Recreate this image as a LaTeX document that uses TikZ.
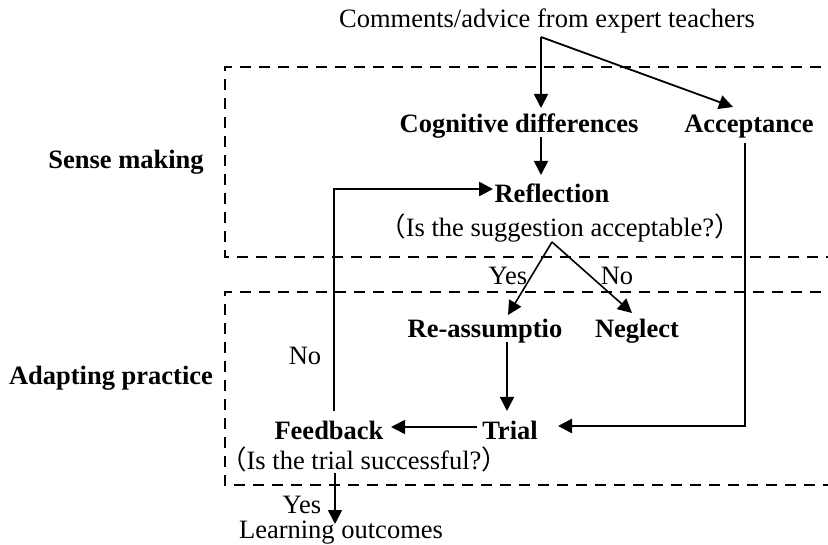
\documentclass[tikz,border=0pt]{standalone}
\usepackage{fontspec}
\setmainfont{Liberation Serif}
\newfontfamily\cjk{Noto Sans CJK SC}
\usetikzlibrary{arrows.meta}
\begin{document}
\begin{tikzpicture}[x=1pt,y=-1pt,
  lbl/.style={font=\fontsize{26.5}{30}\selectfont, inner sep=0pt, anchor=base},
  blbl/.style={lbl, font=\fontsize{26.5}{30}\selectfont\bfseries},
  arr/.style={-{Triangle[length=14pt,width=14pt]}, line width=1.6pt},
  heavy/.style={line width=2.6pt},
  dashbox/.style={dash pattern=on 11pt off 8pt, line width=2.8pt}]
\useasboundingbox (0,0) rectangle (828,545);
\clip (0,0) rectangle (828,545);

% dashed phase boxes
\draw[dashbox] (840,67) -- (225,67) -- (225,257) -- (840,257);
\draw[dashbox] (840,292) -- (225,292) -- (225,485) -- (840,485);

% phase labels
\node[blbl] (sense) at (126,169) {Sense making};
\node[blbl] (adapt) at (111,385) {Adapting practice};

% nodes
\node[lbl] (title) at (547,28) {Comments/advice from expert teachers};
\node[blbl] (cog) at (519,133) {Cognitive differences};
\node[blbl] (acc) at (749,133) {Acceptance};
\node[blbl] (refl) at (552,203) {Reflection};
\node[lbl] (q1) at (560,237) {{\cjk （}Is the suggestion acceptable?{\cjk ）}};
\node[blbl] (reas) at (485,338) {Re-assumptio};
\node[blbl] (neg) at (637,338) {Neglect};
\node[blbl] (trial) at (510,439) {Trial};
\node[blbl] (fb) at (329,439) {Feedback};
\node[lbl] (q2) at (364,469) {{\cjk （}Is the trial successful?{\cjk ）}};
\node[lbl] (out) at (341,538) {Learning outcomes};

% edge labels
\node[lbl] (yes1) at (508,285) {Yes};
\node[lbl] (no1) at (617,285) {No};
\node[lbl] (no2) at (305,365) {No};
\node[lbl] (yes2) at (302,513) {Yes};

% junction / end coordinates
\coordinate (s1) at (541,37);
\coordinate (cogin) at (541,108);
\coordinate (accin) at (733,107);
\coordinate (cogout) at (541,137);
\coordinate (reflin) at (541,175);
\coordinate (s2) at (552,242);
\coordinate (reasin) at (508,315);
\coordinate (negin) at (632,313);
\coordinate (reasout) at (507,342);
\coordinate (trialin) at (507,411);
\coordinate (trialout) at (477,427);
\coordinate (fbin) at (391,427);
\coordinate (accout) at (745,143);
\coordinate (acccorner) at (745,426);
\coordinate (trialin2) at (558,426);
\coordinate (fbup) at (334,411);
\coordinate (fbcorner) at (334,189);
\coordinate (reflin2) at (493,189);
\coordinate (fbdown) at (335,473);
\coordinate (outin) at (335,524);

% connectors
\draw[arr, line width=1.8pt] (s1) -- (cogin);
\draw[arr, line width=1.8pt] (s1) -- (accin);
\draw[arr] (cogout) -- (reflin);
\draw[arr] (s2) -- (reasin);
\draw[arr] (s2) -- (negin);
\draw[arr] (reasout) -- (trialin);
\draw[arr] (trialout) -- (fbin);
\draw[arr, heavy] (accout) -- (acccorner) -- (trialin2);
\draw[arr, heavy] (fbup) -- (fbcorner) -- (reflin2);
\draw[arr] (fbdown) -- (outin);
\end{tikzpicture}
\end{document}
